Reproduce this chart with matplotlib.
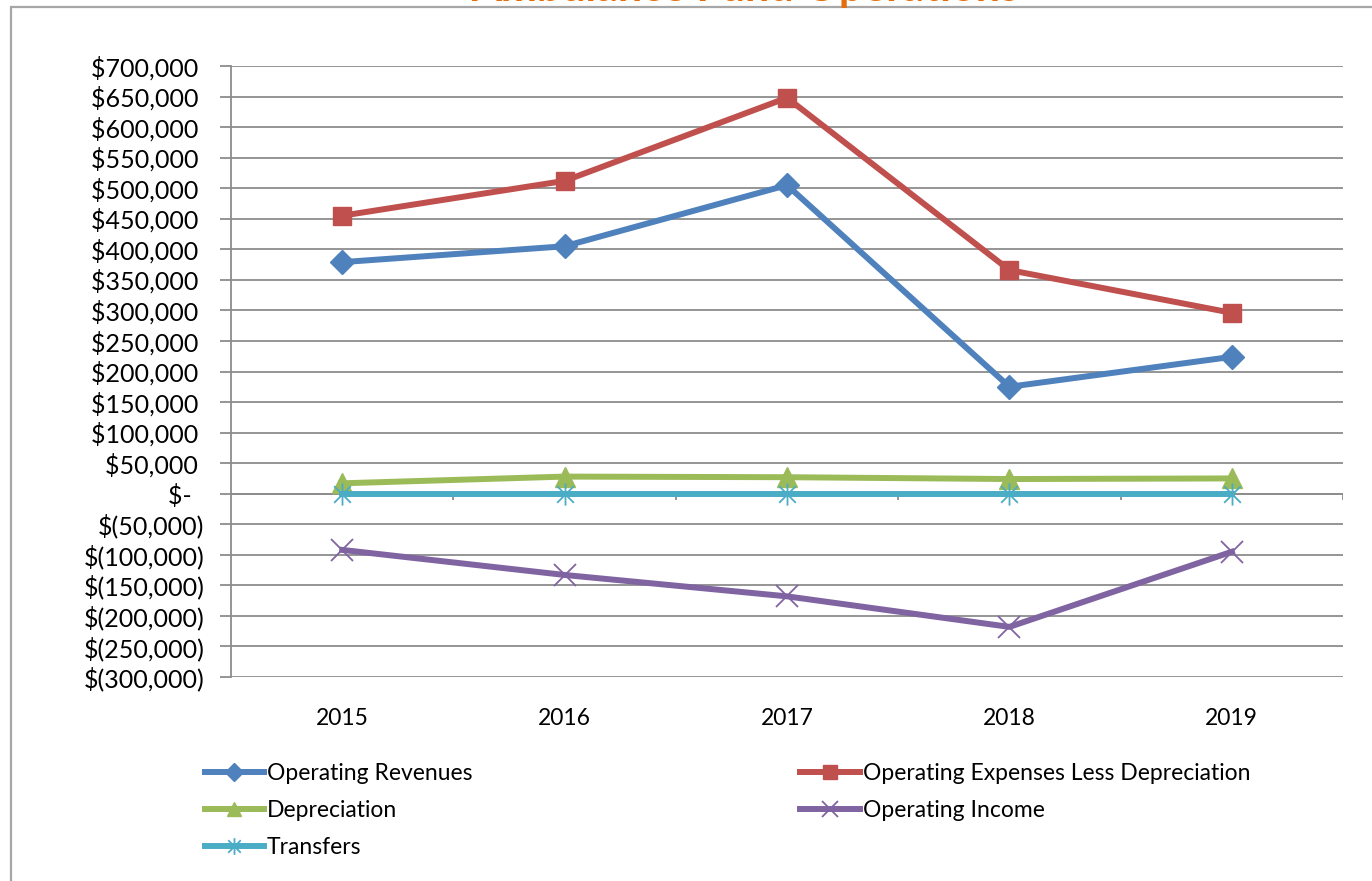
import matplotlib
matplotlib.use("Agg")
import matplotlib.pyplot as plt
from matplotlib.path import Path
from matplotlib.patches import Rectangle
from matplotlib.ticker import FuncFormatter, FixedLocator
import numpy as np

plt.rcParams['font.family'] = ['Lato', 'DejaVu Sans']

title = "Ambulance Fund Operations"
years = ["2015", "2016", "2017", "2018", "2019"]
operating_revenues = [379000, 405000, 505000, 175000, 224000]
operating_expenses = [455000, 512000, 648000, 366000, 296000]
depreciation = [17000, 28000, 27000, 24000, 25000]
operating_income = [-92000, -133000, -168000, -218000, -95000]
transfers = [0, 0, 0, 0, 0]

y_ticks = list(range(-300000, 700001, 50000))

fig = plt.figure(figsize=(13.72, 8.81), dpi=100)
ax = fig.add_axes([231/1372, 1-677/881, (1343-231)/1372, (677-66)/881])

# outer chart border
fig.patches.append(Rectangle((11/1372, -0.05), 1.2, 1.05 - 7/881, transform=fig.transFigure,
                             fill=False, edgecolor='#A6A6A6', linewidth=1.6, zorder=0))

# title (cut off at top in the reference)
fig.text(745/1372, 1 - 1/881, title, ha='center', va='baseline', fontsize=31,
         fontweight='bold', color='#E46C0A')

x = np.arange(len(years)) + 0.5

star = Path([(0, -1), (0, 1), (-0.75, -0.75), (0.75, 0.75), (-0.75, 0.75), (0.75, -0.75)],
            [Path.MOVETO, Path.LINETO, Path.MOVETO, Path.LINETO, Path.MOVETO, Path.LINETO])

lw = 4.3
h_rev, = ax.plot(x, operating_revenues, color='#4F81BD', lw=lw, marker='D', ms=12,
                 label='Operating Revenues', zorder=5)
h_exp, = ax.plot(x, operating_expenses, color='#C0504D', lw=lw, marker='s', ms=13,
                 label='Operating Expenses Less Depreciation', zorder=5)
h_dep, = ax.plot(x, depreciation, color='#9BBB59', lw=lw, marker='^', ms=14,
                 label='Depreciation', zorder=5)
h_inc, = ax.plot(x, operating_income, color='#8064A2', lw=lw, marker='x', ms=16, mew=1.3,
                 label='Operating Income', zorder=5)
h_tr, = ax.plot(x, transfers, color='#4BACC6', lw=lw, marker=star, ms=16, mew=1.3,
                label='Transfers', zorder=6)

ax.set_xlim(0, len(years))
ax.set_ylim(y_ticks[0], y_ticks[-1])

def fmt(v, pos):
    if v == 0:
        return "$-  "
    if v < 0:
        return "$({:,.0f})".format(-v)
    return "${:,.0f} ".format(v)

ax.yaxis.set_major_locator(FixedLocator(y_ticks))
ax.yaxis.set_major_formatter(FuncFormatter(fmt))
ax.grid(axis='y', color='#8C8C8C', linewidth=1.3)
ax.set_axisbelow(True)
ax.tick_params(axis='y', length=8, width=1.3, color='#8C8C8C', labelsize=18, pad=11,
               labelcolor='black')

ax.set_xticks([])
ax.set_xticks(x, minor=True)
ax.set_xticklabels(years, minor=True)
ax.tick_params(axis='x', which='minor', length=0, labelsize=16.5, pad=22)

for s in ['top', 'right', 'bottom']:
    ax.spines[s].set_visible(False)
ax.spines['left'].set_color('#8C8C8C')
ax.spines['left'].set_linewidth(1.3)

# category boundary tick marks on the zero axis
ax.vlines(np.arange(1, len(years) + 1), 0, -10000, color='#8C8C8C', lw=1.3, zorder=2)
ax.axhline(0, color='#8C8C8C', lw=1.3, zorder=2)

handles = [h_rev, h_dep, h_tr, h_exp, h_inc]
leg = fig.legend(handles=handles, labels=[h.get_label() for h in handles], ncol=2,
                 loc='upper left', bbox_to_anchor=(184/1372, 1 - 742/881), frameon=False,
                 fontsize=16.5, handlelength=2.6, handletextpad=0.12, labelspacing=0.7,
                 columnspacing=14.3, markerscale=0.75)

fig.savefig("out.png", dpi=100)
